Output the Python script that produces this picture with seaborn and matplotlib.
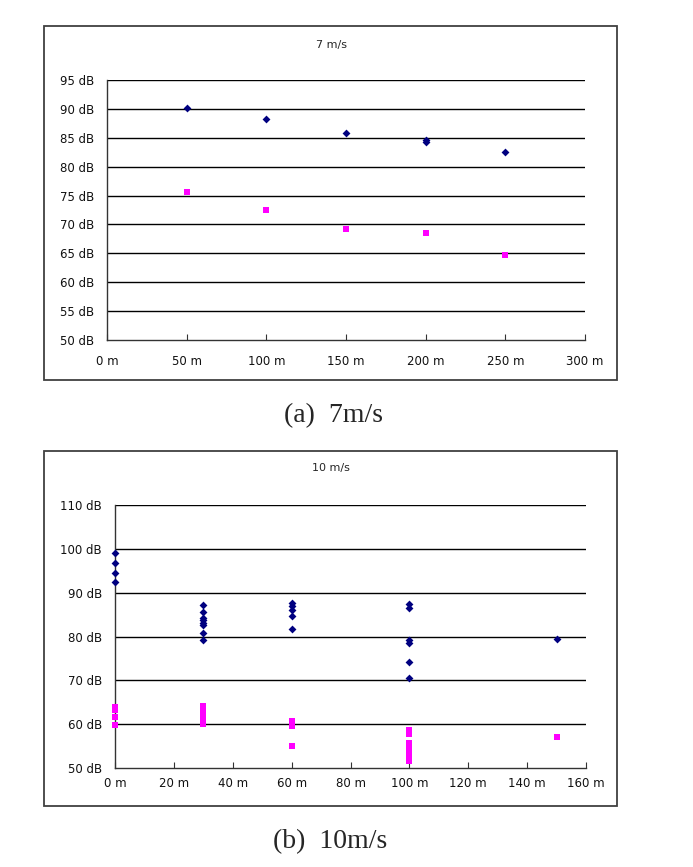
import matplotlib
matplotlib.use("Agg")
import matplotlib.pyplot as plt
import seaborn as sns
import pandas as pd
from matplotlib.patches import Rectangle
from matplotlib.ticker import FuncFormatter

# ---- data: panel (a) 7 m/s ----
a_dist = [50, 100, 150, 200, 200, 250]
a_upper = [90.2, 88.2, 85.8, 84.3, 84.6, 82.5]
a_dist_low = [50, 100, 150, 200, 250]
a_lower = [75.7, 72.5, 69.2, 68.5, 64.7]

# ---- data: panel (b) 10 m/s ----
b_dist_up = [0, 0, 0, 0,
             30, 30, 30, 30, 30, 30, 30, 30,
             60, 60, 60, 60, 60,
             100, 100, 100, 100, 100, 100,
             150]
b_upper = [99.0, 96.7, 94.5, 92.4,
           87.1, 85.5, 84.3, 83.7, 83.1, 82.6, 80.7, 79.3,
           87.7, 87.0, 86.0, 84.6, 81.6,
           87.5, 86.6, 79.1, 78.6, 74.1, 70.6,
           79.4]
b_dist_low = [0, 0, 0, 0,
              30, 30, 30, 30, 30, 30,
              60, 60, 60, 60,
              100, 100, 100, 100, 100, 100, 100, 100,
              150]
b_lower = [64.0, 63.3, 61.6, 59.8,
           64.2, 63.1, 62.4, 61.6, 60.8, 60.1,
           60.8, 60.1, 59.5, 55.0,
           58.7, 57.8, 55.8, 55.0, 54.3, 53.5, 52.6, 51.7,
           57.0]

a_xticks = [0, 50, 100, 150, 200, 250, 300]
a_yticks = [50, 55, 60, 65, 70, 75, 80, 85, 90, 95]
b_xticks = [0, 20, 40, 60, 80, 100, 120, 140, 160]
b_yticks = [50, 60, 70, 80, 90, 100, 110]

df_a = pd.DataFrame({
    "dist": a_dist + a_dist_low,
    "db": a_upper + a_lower,
    "series": ["upper"] * len(a_upper) + ["lower"] * len(a_lower),
})
df_b = pd.DataFrame({
    "dist": b_dist_up + b_dist_low,
    "db": b_upper + b_lower,
    "series": ["upper"] * len(b_upper) + ["lower"] * len(b_lower),
})

sns.set_theme(style="white")
plt.rcParams["font.family"] = ["DejaVu Sans"]

W, H = 693, 867
fig = plt.figure(figsize=(W / 100, H / 100), dpi=100)
fig.patch.set_facecolor("white")

def fx(px):
    return px / W

def fy(py):
    return 1 - py / H

palette = {"upper": "#000080", "lower": "#FF00FF"}
markers = {"upper": "D", "lower": "s"}
sizes_ = {"upper": 16, "lower": 22}

def draw(ax, df, xticks, yticks, xlim, ylim, xpad, ypad):
    for s in ["upper", "lower"]:
        sub = df[df["series"] == s]
        sns.scatterplot(data=sub, x="dist", y="db", ax=ax, color=palette[s],
                        marker=markers[s], s=sizes_[s], linewidth=0,
                        legend=False, zorder=3, clip_on=False)
    ax.set_xlim(*xlim)
    ax.set_ylim(*ylim)
    ax.set_xticks(xticks)
    ax.set_yticks(yticks)
    ax.xaxis.set_major_formatter(FuncFormatter(lambda v, p: f"{int(v)} m"))
    ax.yaxis.set_major_formatter(FuncFormatter(lambda v, p: f"{int(v)} dB"))
    ax.set_xlabel("")
    ax.set_ylabel("")
    ax.grid(False)
    for y in yticks:
        if y != ylim[0]:
            ax.axhline(y, color="black", lw=1.0, zorder=1)
    for sp in ["top", "right"]:
        ax.spines[sp].set_visible(False)
    for sp in ["left", "bottom"]:
        ax.spines[sp].set_color("#333333")
        ax.spines[sp].set_linewidth(1.0)
    ax.tick_params(axis="x", direction="in", length=4, width=0.8,
                   color="#333333", labelsize=8.5, pad=xpad, bottom=True,
                   labelcolor="#111111")
    ax.tick_params(axis="y", length=0, labelsize=8.5, pad=ypad,
                   labelcolor="#111111")
    ax.set_facecolor("white")

# frames around each chart
for (x0, y0, x1, y1) in [(44, 26, 617, 380), (44, 451, 617, 806)]:
    fig.patches.append(Rectangle((fx(x0), fy(y1)), fx(x1) - fx(x0), fy(y0) - fy(y1),
                                 transform=fig.transFigure, fill=False,
                                 edgecolor="#404040", linewidth=1.3))

ax1 = fig.add_axes([fx(107), fy(340), fx(585) - fx(107), fy(80) - fy(340)])
draw(ax1, df_a, a_xticks, a_yticks, (0, 300), (50, 95), 11, 9.5)

ax2 = fig.add_axes([fx(115), fy(768), fx(586) - fx(115), fy(505) - fy(768)])
draw(ax2, df_b, b_xticks, b_yticks, (0, 160), (50, 110), 6.5, 9.5)

fig.text(fx(331), fy(45), "7 m/s", ha="center", va="center", fontsize=8)
fig.text(fx(331), fy(468), "10 m/s", ha="center", va="center", fontsize=8)

fig.text(fx(334), fy(416), "(a)  7m/s", ha="center", va="center",
         fontsize=20, family=["Liberation Serif", "DejaVu Serif"])
fig.text(fx(330), fy(842), "(b)  10m/s", ha="center", va="center",
         fontsize=20, family=["Liberation Serif", "DejaVu Serif"])

fig.savefig("out.png", dpi=100, facecolor="white")
